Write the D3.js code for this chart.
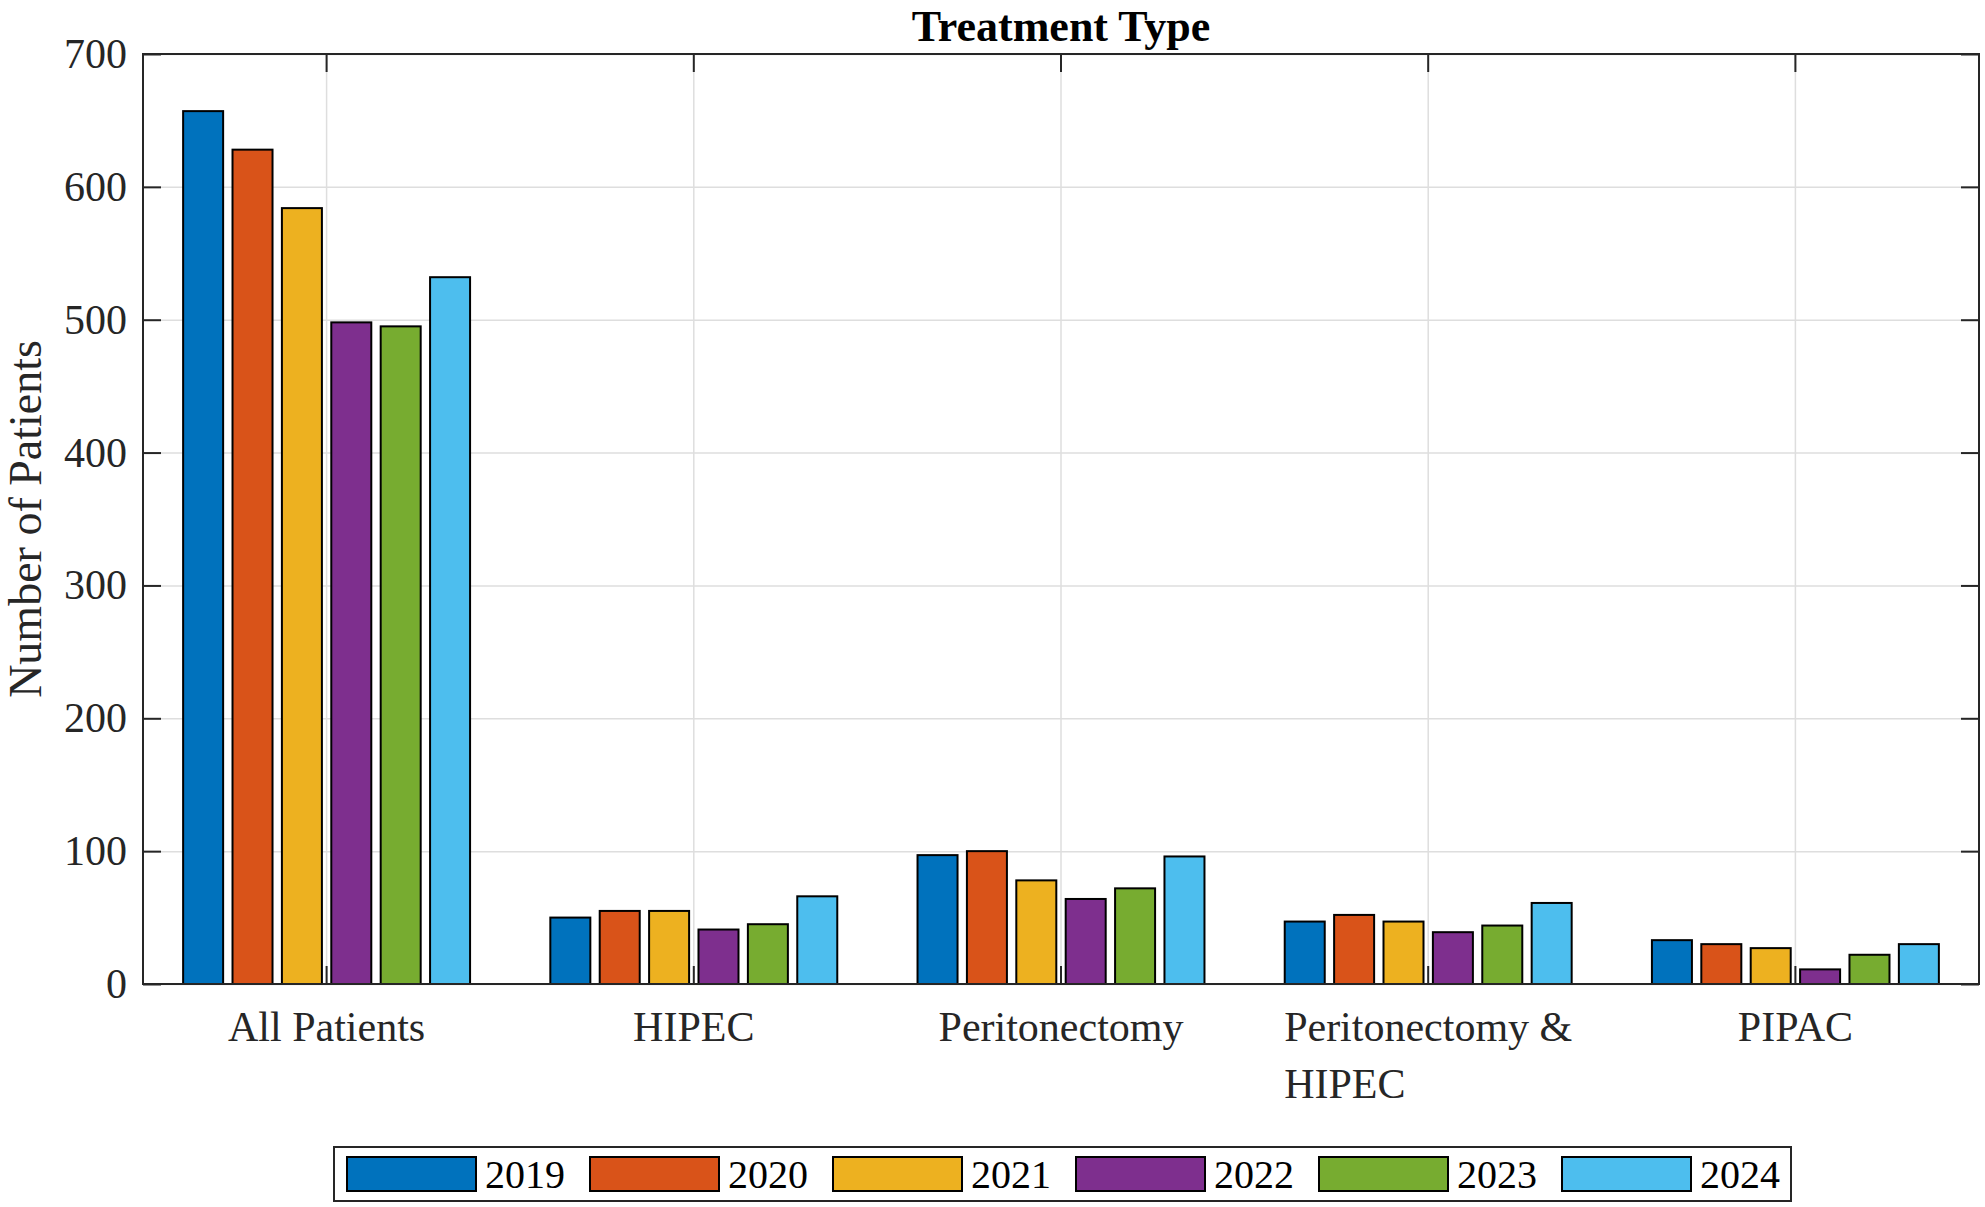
<!DOCTYPE html>
<html>
<head>
<meta charset="utf-8">
<script src="https://cdn.jsdelivr.net/npm/d3@7"></script>
<style>
  body { margin: 0; background: #fff; }
  text { font-family: "Liberation Serif", "Times New Roman", serif; fill: #262626; }
</style>
</head>
<body>
<div id="chart"><svg width="1985" height="1207"></svg></div>
<script>
// data
const categories = ["All Patients", "HIPEC", "Peritonectomy", "Peritonectomy & HIPEC", "PIPAC"];
const tickLabels = [["All Patients"], ["HIPEC"], ["Peritonectomy"], ["Peritonectomy &", "HIPEC"], ["PIPAC"]];
const years = ["2019", "2020", "2021", "2022", "2023", "2024"];
const patients2019 = [657, 50, 97, 47, 33];
const patients2020 = [628, 55, 100, 52, 30];
const patients2021 = [584, 55, 78, 47, 27];
const patients2022 = [498, 41, 64, 39, 11];
const patients2023 = [495, 45, 72, 44, 22];
const patients2024 = [532, 66, 96, 61, 30];
const yTicks = [0, 100, 200, 300, 400, 500, 600, 700];
const colors = ["#0072BD", "#D95319", "#EDB120", "#7E2F8E", "#77AC30", "#4DBEEE"];

const series = [patients2019, patients2020, patients2021, patients2022, patients2023, patients2024];

/***** SETUP *****/
const width = 1985, height = 1207;
const margin = {top: 54, left: 143, right: 6, bottom: 223};
const plotWidth = width - margin.left - margin.right;
const plotHeight = height - margin.top - margin.bottom;
const TICK = 18;

const svg = d3.select("#chart").select("svg");

/***** SCALES *****/
const xScale = d3.scaleBand()
    .domain(categories)
    .range([0, plotWidth])
    .paddingInner(0)
    .paddingOuter(0);

const groupWidth = xScale.bandwidth() * 0.807;
const xInner = d3.scaleBand()
    .domain(years)
    .range([-groupWidth / 2, groupWidth / 2])
    .paddingInner(0.19)
    .paddingOuter(0.095);

const yScale = d3.scaleLinear()
    .domain([0, 700])
    .range([plotHeight, 0]);

const plot = svg.append("g")
    .attr("transform", `translate(${margin.left}, ${margin.top})`);

/***** GRID *****/
plot.append("g")
    .attr("class", "yGrid")
    .call(d3.axisLeft(yScale).tickValues(yTicks).tickSize(-plotWidth).tickFormat(""))
    .call(g => g.select(".domain").remove())
    .call(g => g.selectAll("line").attr("stroke", "#dedede").attr("stroke-width", 1.5));

plot.append("g")
    .attr("class", "xGrid")
    .call(d3.axisTop(xScale).tickSize(-plotHeight).tickFormat(""))
    .call(g => g.select(".domain").remove())
    .call(g => g.selectAll("line").attr("stroke", "#dedede").attr("stroke-width", 1.5));

/***** TICKS (inward, all four sides) *****/
const tickStyle = g => g.selectAll("line").attr("stroke", "#262626").attr("stroke-width", 2);

plot.append("g")
    .call(d3.axisLeft(yScale).tickValues(yTicks).tickSize(-TICK).tickFormat(""))
    .call(g => g.select(".domain").remove()).call(tickStyle);
plot.append("g")
    .attr("transform", `translate(${plotWidth}, 0)`)
    .call(d3.axisRight(yScale).tickValues(yTicks).tickSize(-TICK).tickFormat(""))
    .call(g => g.select(".domain").remove()).call(tickStyle);
plot.append("g")
    .call(d3.axisTop(xScale).tickSize(-TICK).tickFormat(""))
    .call(g => g.select(".domain").remove()).call(tickStyle);
plot.append("g")
    .attr("transform", `translate(0, ${plotHeight})`)
    .call(d3.axisBottom(xScale).tickSize(-TICK).tickFormat(""))
    .call(g => g.select(".domain").remove()).call(tickStyle);

/***** BARS *****/
const groups = plot.selectAll(".group")
    .data(categories)
    .join("g")
    .attr("class", "group")
    .attr("transform", d => `translate(${xScale(d) + xScale.bandwidth() / 2}, 0)`);

groups.selectAll("rect")
    .data((d, ci) => years.map((y, yi) => ({year: y, value: series[yi][ci], color: colors[yi]})))
    .join("rect")
    .attr("x", d => xInner(d.year))
    .attr("width", xInner.bandwidth())
    .attr("y", d => yScale(d.value))
    .attr("height", d => yScale(0) - yScale(d.value))
    .attr("fill", d => d.color)
    .attr("stroke", "#000")
    .attr("stroke-width", 2);

/***** AXIS BOX *****/
plot.append("rect")
    .attr("x", 0).attr("y", 0)
    .attr("width", plotWidth).attr("height", plotHeight)
    .attr("fill", "none")
    .attr("stroke", "#262626")
    .attr("stroke-width", 2);

/***** TICK LABELS *****/
plot.selectAll(".yLabel")
    .data(yTicks)
    .join("text")
    .attr("class", "yLabel")
    .attr("x", -16)
    .attr("y", d => yScale(d))
    .attr("text-anchor", "end")
    .attr("dominant-baseline", "central")
    .style("font-size", "42px")
    .text(d => d);

const xLabels = plot.selectAll(".xLabel")
    .data(categories)
    .join("text")
    .attr("class", "xLabel")
    .attr("y", plotHeight + 57)
    .style("font-size", "42px");

xLabels.each(function(d, i) {
    const t = d3.select(this);
    const lines = tickLabels[i];
    lines.forEach((line, li) => {
        t.append("tspan")
            .attr("x", 0)
            .attr("dy", li === 0 ? 0 : 57)
            .text(line);
    });
    // multi-line labels are left aligned inside a centred block
    const w = this.getBBox().width;
    const cx = xScale(d) + xScale.bandwidth() / 2;
    t.attr("transform", `translate(${cx - w / 2}, 0)`);
});

/***** TITLE, Y LABEL *****/
svg.append("text")
    .attr("x", margin.left + plotWidth / 2)
    .attr("y", 41)
    .attr("text-anchor", "middle")
    .style("font-size", "44px")
    .style("font-weight", "bold")
    .style("fill", "#000")
    .text("Treatment Type");

svg.append("text")
    .attr("transform", `translate(41, ${margin.top + plotHeight / 2}) rotate(-90)`)
    .attr("text-anchor", "middle")
    .style("font-size", "46px")
    .text("Number of Patients");

/***** LEGEND *****/
const legend = svg.append("g")
    .attr("transform", "translate(334, 1147)");

legend.append("rect")
    .attr("width", 1457).attr("height", 54)
    .attr("fill", "#fff")
    .attr("stroke", "#262626")
    .attr("stroke-width", 2);

const entries = legend.selectAll(".entry")
    .data(years)
    .join("g")
    .attr("class", "entry")
    .attr("transform", (d, i) => `translate(${13 + i * 243}, 0)`);

entries.append("rect")
    .attr("y", 10)
    .attr("width", 129).attr("height", 34)
    .attr("fill", (d, i) => colors[i])
    .attr("stroke", "#000")
    .attr("stroke-width", 2);

entries.append("text")
    .attr("x", 138)
    .attr("y", 27)
    .attr("dominant-baseline", "central")
    .style("font-size", "40px")
    .style("fill", "#000")
    .text(d => d);
</script>
</body>
</html>
